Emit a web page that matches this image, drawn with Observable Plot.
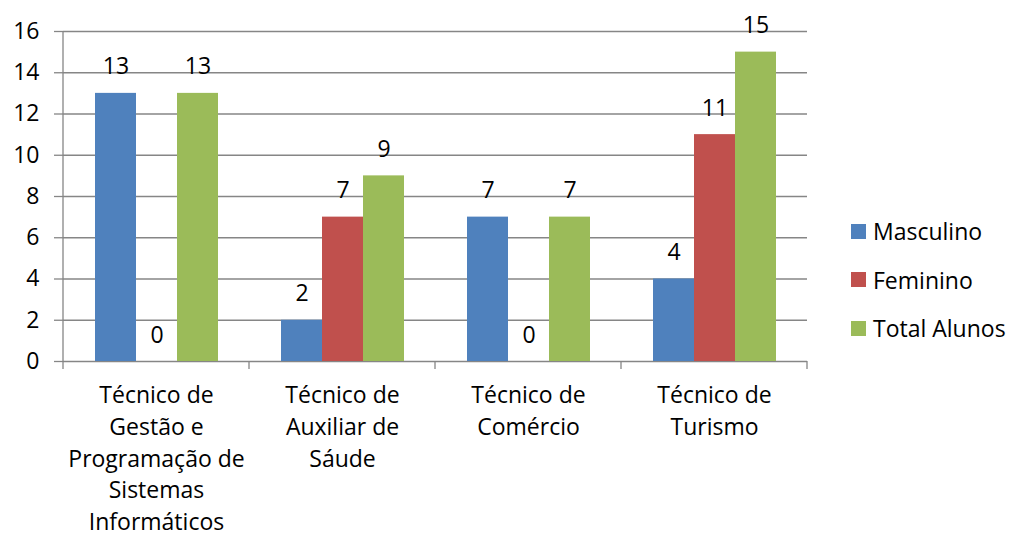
<!DOCTYPE html>
<html><head><meta charset="utf-8">
<script src="https://cdn.jsdelivr.net/npm/d3@7"></script>
<script src="https://cdn.jsdelivr.net/npm/@observablehq/plot@0.6"></script>
<style>
body{margin:0;background:#fff;font-family:"Open Sans",sans-serif;}
#wrap{position:relative;width:1010px;height:536px;}
#legend{position:absolute;left:851px;top:0;}
.li{position:absolute;left:0;white-space:nowrap;font-size:23px;color:#000;display:flex;align-items:center;height:26px;}
.sw{width:15px;height:15px;margin-right:7px;display:inline-block;}
</style></head>
<body><div id="wrap"><div id="legend"></div></div>
<script>
const categories = ["Técnico de\nGestão e\nProgramação de\nSistemas\nInformáticos", "Técnico de\nAuxiliar de\nSáude", "Técnico de\nComércio", "Técnico de\nTurismo"];
const series = ["Masculino", "Feminino", "Total Alunos"];
const masculino = [13, 2, 7, 4];
const feminino = [0, 7, 0, 11];
const totalAlunos = [13, 9, 7, 15];
const colors = ["#4F81BD", "#C0504D", "#9BBB59"];
const yTicks = [0, 2, 4, 6, 8, 10, 12, 14, 16];

const seriesValues = [masculino, feminino, totalAlunos];
const data = [];
categories.forEach((c, i) => series.forEach((s, j) => data.push({cat: c, series: s, value: seriesValues[j][i]})));

const gray = "#868686";
const plot = Plot.plot({
  width: 1010, height: 536,
  marginLeft: 62, marginRight: 202, marginTop: 31, marginBottom: 175,
  style: {fontFamily: "'Open Sans', sans-serif", fontSize: "23px", color: "#000", background: "white", overflow: "visible"},
  fx: {domain: categories, padding: 0, label: null, axis: null},
  x: {domain: series, paddingInner: 0, paddingOuter: 0.72, axis: null},
  y: {domain: [0, 16], label: null},
  color: {domain: series, range: colors},
  marks: [
    Plot.ruleY(yTicks, {stroke: gray, strokeWidth: 1.3, strokeOpacity: 1}),
    Plot.barY(data, {fx: "cat", x: "series", y: "value", fill: "series"}),
    Plot.text(data, {fx: "cat", x: "series", y: "value", text: d => String(d.value), lineAnchor: "bottom", dy: -19, fontSize: 23, fill: "#000"}),
    Plot.axisY({ticks: yTicks, tickSize: 9, tickPadding: 15, stroke: gray, fontSize: 23, strokeWidth: 1.3, strokeOpacity: 1}),
    Plot.axisFx({anchor: "bottom", tickSize: 0, tickPadding: 19, fontSize: 23, lineHeight: 1.38, label: null})
  ]
});
document.getElementById("wrap").prepend(plot);

// axis lines and category boundary ticks from the fx scale
const fx = plot.scale("fx");
const yS = plot.scale("y");
const svg = d3.select(plot);
const y0 = yS.apply(0), yTop = yS.apply(16);
const bw = fx.bandwidth;
const x0 = fx.apply(categories[0]);
svg.append("line").attr("x1", x0).attr("x2", x0).attr("y1", yTop).attr("y2", y0 + 8).attr("stroke", gray).attr("stroke-width", 1.3);
categories.forEach((c, i) => {
  const xb = fx.apply(c) + bw;
  svg.append("line").attr("x1", xb).attr("x2", xb).attr("y1", y0).attr("y2", y0 + 8).attr("stroke", gray).attr("stroke-width", 1.3);
});

// legend
const legend = document.getElementById("legend");
series.forEach((s, i) => {
  const d = document.createElement("div");
  d.className = "li";
  d.style.top = (218 + i * 48.5) + "px";
  d.innerHTML = `<span class="sw" style="background:${colors[i]}"></span><span>${s}</span>`;
  legend.appendChild(d);
});
</script></body></html>
